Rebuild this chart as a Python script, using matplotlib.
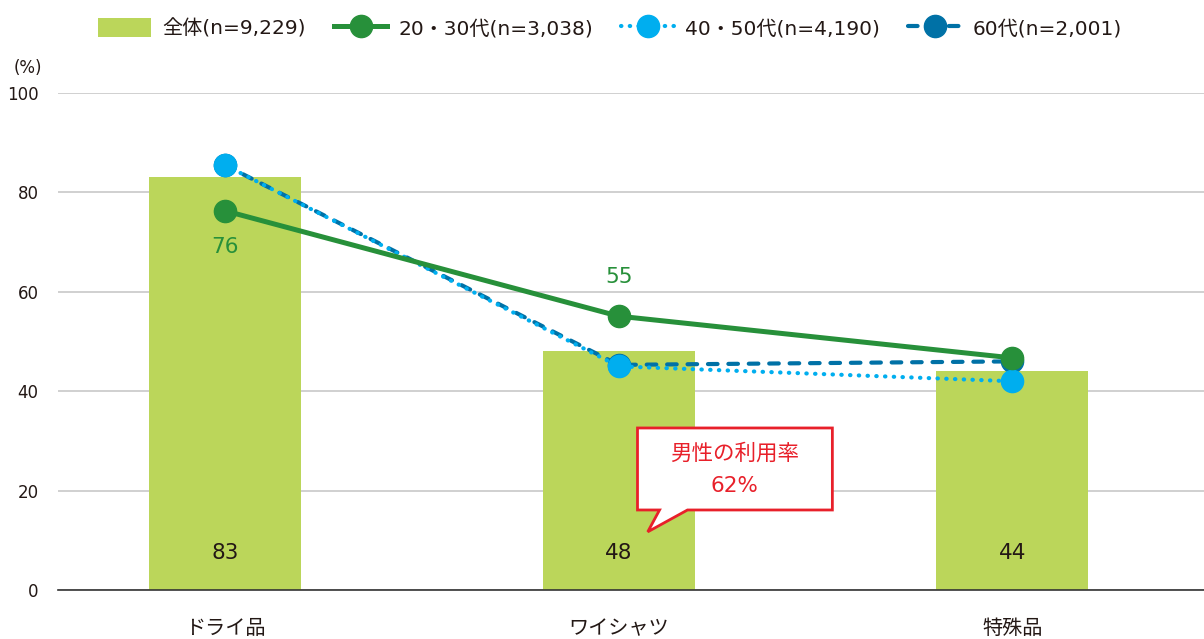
import matplotlib
matplotlib.use("Agg")
import matplotlib.pyplot as plt
from matplotlib.patches import Polygon
import numpy as np

# Verdana-like latin, CJK glyphs fall back to Noto
plt.rcParams['font.family'] = ['DejaVu Sans', 'Noto Sans CJK JP']

# data
categories = ['ドライ品', 'ワイシャツ', '特殊品']
total = [83, 48, 44]
age_20_30 = [76.3, 55.1, 46.7]
age_40_50 = [85.5, 45.0, 42.0]
age_60 = [85.5, 45.3, 46.0]
bar_labels = ['83', '48', '44']
legend_names = ['全体(n=9,229)', '20・30代(n=3,038)', '40・50代(n=4,190)', '60代(n=2,001)']

c_bar = '#BBD65A'
c_green = '#27903A'
c_light = '#00AEEF'
c_dark = '#0071A6'
c_red = '#E8202A'
c_text = '#231815'

fig = plt.figure(figsize=(12.04, 6.39), dpi=100)
ax = fig.add_axes([58 / 1204, 49 / 639, 1 - 58 / 1204, (590 - 93) / 639])

x = np.arange(len(categories))
bars = ax.bar(x, total, width=0.386, color=c_bar, zorder=2, label=legend_names[0])

l60, = ax.plot(x, age_60, color=c_dark, lw=3, linestyle=(0, (2.3, 2.6)),
               dash_capstyle='round', marker='o', markersize=16, zorder=3,
               label=legend_names[3])
l4050, = ax.plot(x, age_40_50, color=c_light, lw=3, linestyle=(0, (0.1, 2)),
                 dash_capstyle='round', marker='o', markersize=16, zorder=4,
                 label=legend_names[2])
l2030, = ax.plot(x, age_20_30, color=c_green, lw=3.6, marker='o', markersize=16,
                 zorder=5, label=legend_names[1])

# bar value labels
for xi, lab in zip(x, bar_labels):
    ax.text(xi, 7.5, lab, ha='center', va='center', fontsize=15.5, color=c_text, zorder=6)

# green data labels
ax.annotate('76', (x[0], age_20_30[0]), xytext=(0, -26), textcoords='offset points',
            ha='center', va='center', fontsize=15.5, color=c_green, zorder=6)
ax.annotate('55', (x[1], age_20_30[1]), xytext=(0, 28), textcoords='offset points',
            ha='center', va='center', fontsize=15.5, color=c_green, zorder=6)

# callout
callout = Polygon([(1.048, 32.6), (1.543, 32.6), (1.543, 16.1), (1.175, 16.1),
                   (1.074, 11.7), (1.104, 16.1), (1.048, 16.1)], closed=True,
                  facecolor='white', edgecolor=c_red, lw=2, zorder=7)
ax.add_patch(callout)
ax.text(1.2955, 27.4, '男性の利用率', ha='center', va='center', fontsize=15.5,
        color=c_red, zorder=8)
ax.text(1.2955, 21.0, '62%', ha='center', va='center', fontsize=15.5,
        color=c_red, zorder=8)

ax.set_xlim(-0.424, 2.487)
ax.set_ylim(0, 100)
ax.set_yticks(np.arange(0, 101, 20))
ax.set_xticks(x, categories)
ax.grid(axis='y', color='#C8C8C8', lw=1.2, zorder=0)
ax.set_axisbelow(True)
for s in ['top', 'right', 'left']:
    ax.spines[s].set_visible(False)
ax.spines['bottom'].set_color('#333333')
ax.spines['bottom'].set_linewidth(1.2)
ax.tick_params(axis='y', length=0, pad=14, labelsize=12, labelcolor=c_text)
ax.tick_params(axis='x', length=0, pad=21, labelsize=14.5, labelcolor=c_text)

fig.text(28 / 1204, 1 - 68 / 639, '(%)', ha='center', va='center', fontsize=12, color=c_text)

fig.legend(handles=[bars, l2030, l4050, l60], labels=legend_names,
           loc='center', bbox_to_anchor=(610 / 1204, 1 - 28 / 639), ncol=4,
           frameon=False, fontsize=14.5, handlelength=2.63, handleheight=1.1,
           columnspacing=1.4, handletextpad=0.55, labelcolor=c_text)

fig.savefig('out.png', dpi=100)
